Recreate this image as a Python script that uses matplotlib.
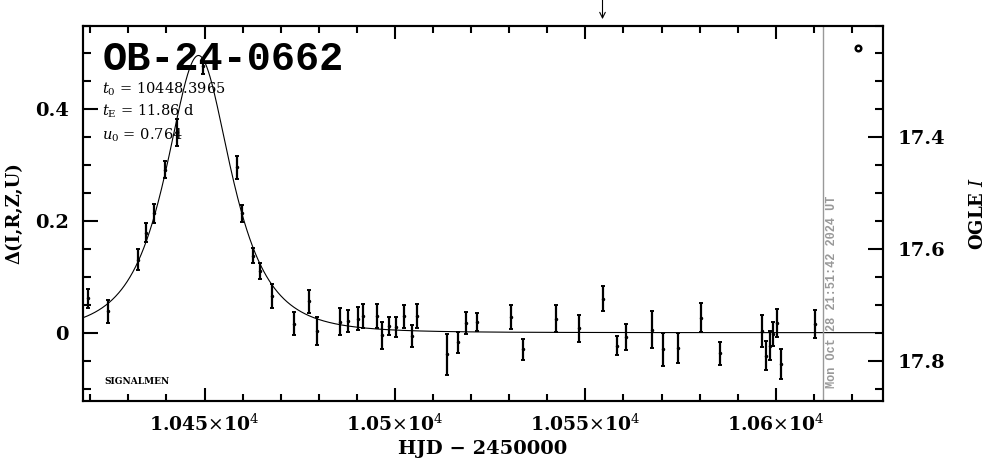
import numpy as np
import matplotlib
matplotlib.use("Agg")
import matplotlib.pyplot as plt
from matplotlib.ticker import MultipleLocator, FixedLocator, FixedFormatter

plt.rcParams['font.family'] = ['DejaVu Serif']
plt.rcParams['mathtext.fontset'] = 'dejavuserif'

# event / model parameters
event_name = "OB-24-0662"
t0 = 10448.3965
tE = 11.86
u0 = 0.764
I0 = 17.75
now_hjd = 10612.41
now_label = "Mon Oct 28 21:51:42 2024 UT"
arrow_hjd = 10554.5

# photometry: HJD-2450000, delta mag, error
hjd = [10419.5, 10424.6, 10432.6, 10434.6, 10436.6, 10439.7, 10442.7, 10449.7,
       10458.5, 10459.8, 10462.7, 10464.6, 10467.7, 10473.5, 10477.4, 10479.4,
       10485.6, 10487.6, 10490.4, 10491.7, 10495.2, 10496.7, 10498.5, 10500.4,
       10502.4, 10504.4, 10505.7, 10513.6, 10516.6, 10518.6, 10521.6, 10530.6,
       10533.5, 10542.4, 10548.4, 10554.5, 10558.3, 10560.6, 10567.5, 10570.4,
       10574.4, 10580.3, 10585.3, 10596.4, 10597.4, 10598.4, 10599.3, 10600.2,
       10601.5, 10610.4]
dmag = [0.062, 0.038, 0.131, 0.179, 0.214, 0.292, 0.359, 0.477,
        0.296, 0.214, 0.138, 0.110, 0.066, 0.016, 0.056, 0.003,
        0.020, 0.021, 0.025, 0.030, 0.030, -0.005, 0.012, 0.010,
        0.029, -0.006, 0.030, -0.039, -0.017, 0.017, 0.019, 0.028,
        -0.030, 0.025, 0.008, 0.061, -0.023, -0.008, 0.005, -0.030,
        -0.027, 0.027, -0.037, 0.003, -0.041, -0.023, -0.002, 0.017,
        -0.056, 0.015]
derr = [0.017, 0.021, 0.018, 0.017, 0.017, 0.015, 0.024, 0.013,
        0.021, 0.015, 0.013, 0.014, 0.021, 0.021, 0.020, 0.025,
        0.024, 0.020, 0.021, 0.021, 0.021, 0.025, 0.016, 0.018,
        0.021, 0.020, 0.021, 0.037, 0.019, 0.020, 0.016, 0.021,
        0.019, 0.024, 0.024, 0.022, 0.017, 0.023, 0.033, 0.030,
        0.027, 0.026, 0.021, 0.029, 0.026, 0.026, 0.022, 0.025,
        0.027, 0.025]

xticks = [10450, 10500, 10550, 10600]
xticklabels = [r"1.045$\times$10$^4$", r"1.05$\times$10$^4$",
               r"1.055$\times$10$^4$", r"1.06$\times$10$^4$"]

xmin, xmax = 10418.0, 10628.1
ymin, ymax = -0.1223, 0.55


def paczynski(t):
    u = np.sqrt(u0**2 + ((t - t0) / tE)**2)
    A = (u**2 + 2) / (u * np.sqrt(u**2 + 4))
    return 2.5 * np.log10(A)


fig = plt.figure(figsize=(9.86, 4.59), dpi=100)
ax = fig.add_axes([0.0839, 0.1264, 0.8114, 0.818])

# model
tt = np.linspace(xmin, xmax, 2000)
ax.plot(tt, paczynski(tt), color='black', lw=0.8)

# data
ax.errorbar(hjd, dmag, yerr=derr, fmt='.', color='black', ms=3,
            elinewidth=1.6, capsize=1.5, capthick=1.4)

# current time line
ax.axvline(now_hjd, color='#999999', lw=1)
ax.text(now_hjd + 2.4, 0.035, now_label, rotation=90, color='#999999',
        family='Liberation Mono', weight='bold', fontsize=8.6,
        ha='center', va='bottom', transform=ax.get_xaxis_transform())

# little marker top right
ax.plot([10621.6], [0.509], 'o', mfc='none', mec='black', ms=4, mew=1.8)

ax.set_xlim(xmin, xmax)
ax.set_ylim(ymin, ymax)

ax.xaxis.set_major_locator(FixedLocator(xticks))
ax.xaxis.set_major_formatter(FixedFormatter(xticklabels))
ax.xaxis.set_minor_locator(MultipleLocator(10))
ax.yaxis.set_major_locator(FixedLocator([0, 0.2, 0.4]))
ax.yaxis.set_major_formatter(FixedFormatter(["0", "0.2", "0.4"]))
ax.yaxis.set_minor_locator(MultipleLocator(0.05))

ax.tick_params(which='both', direction='in', top=True, right=False, width=1.5)
ax.tick_params(axis='x', which='major', length=9.5, pad=9, labelsize=13.5)
ax.tick_params(axis='x', which='minor', length=5)
ax.tick_params(axis='y', which='major', length=10.5, pad=10, labelsize=14)
ax.tick_params(axis='y', which='minor', length=5.5)
for lab in ax.get_xticklabels() + ax.get_yticklabels():
    lab.set_fontweight('bold')
for sp in ax.spines.values():
    sp.set_linewidth(1.5)

ax.set_xlabel("HJD − 2450000", fontsize=14, fontweight='bold', labelpad=4)
ax.set_ylabel("Δ(I,R,Z,U)", fontsize=13, fontweight='bold', labelpad=8)

# right magnitude axis
ax2 = ax.twinx()
ax2.set_ylim(I0 - ymin, I0 - ymax)
ax2.yaxis.set_major_locator(FixedLocator([17.4, 17.6, 17.8]))
ax2.yaxis.set_major_formatter(FixedFormatter(["17.4", "17.6", "17.8"]))
ax2.yaxis.set_minor_locator(MultipleLocator(0.05))
ax2.tick_params(which='both', direction='in', width=1.5)
ax2.tick_params(which='major', length=10.5, pad=11, labelsize=14)
ax2.tick_params(which='minor', length=5.5)
for lab in ax2.get_yticklabels():
    lab.set_fontweight('bold')
for sp in ax2.spines.values():
    sp.set_linewidth(1.5)
ax2.set_ylabel(r"OGLE $I$", fontsize=13, fontweight='bold', labelpad=17)

# annotations
ax.text(0.0254, 0.8815, event_name, transform=ax.transAxes,
        family='Liberation Mono', weight='bold', fontsize=29, va='baseline')
ax.text(0.0236, 0.8194, r"$t_0$ = 10448.3965", transform=ax.transAxes,
        fontsize=10.5, va='baseline')
ax.text(0.0236, 0.7590, r"$t_{\rm E}$ = 11.86 d", transform=ax.transAxes,
        fontsize=10.5, va='baseline')
ax.text(0.0236, 0.6950, r"$u_0$ = 0.764", transform=ax.transAxes,
        fontsize=10.5, va='baseline')
ax.text(0.0266, 0.0453, "SIGNALMEN", transform=ax.transAxes,
        fontsize=6.5, fontweight='bold', va='baseline')

ax.annotate("", xy=(arrow_hjd, 1.017), xytext=(arrow_hjd, 1.07),
            xycoords=ax.get_xaxis_transform(), textcoords=ax.get_xaxis_transform(),
            arrowprops=dict(arrowstyle='->', color='black', lw=0.8,
                            shrinkA=0, shrinkB=0), annotation_clip=False)

fig.savefig("out.png", dpi=100)
